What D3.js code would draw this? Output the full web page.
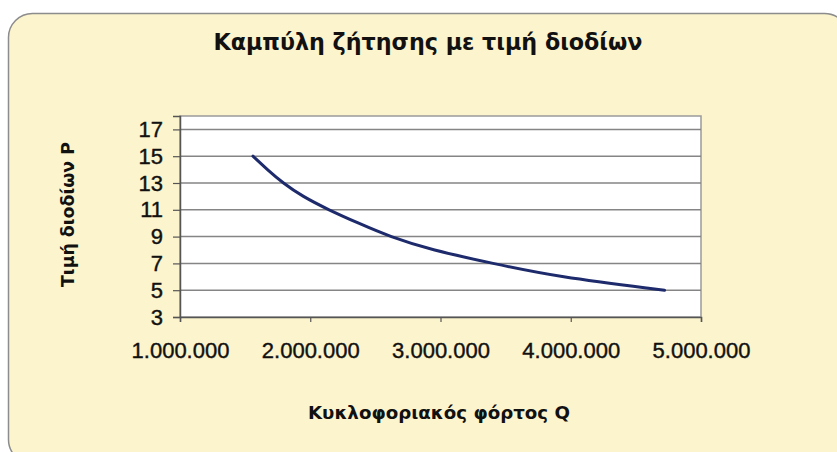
<!DOCTYPE html>
<html>
<head>
<meta charset="utf-8">
<script src="https://cdn.jsdelivr.net/npm/d3@7"></script>
<style>
  html, body { margin: 0; padding: 0; background: #ffffff; }
  svg { display: block; font-family: "Liberation Sans", Arial, sans-serif; }
</style>
</head>
<body>
<svg id="chart" width="837" height="452"></svg>
<script>
// Demand curve: traffic volume Q against toll price P
const quantity = [1560000, 1670000, 1790000, 1940000, 2140000, 2370000, 2610000, 2930000, 3400000, 3890000, 4720000];
const price    = [15, 14, 13, 12, 11, 10, 9, 8, 7, 6, 5];

const yTicks = [3, 5, 7, 9, 11, 13, 15, 17];
const xTicks = [1000000, 2000000, 3000000, 4000000, 5000000];

const titleText = "Καμπύλη ζήτησης με τιμή διοδίων";
const xTitle = "Κυκλοφοριακός φόρτος Q";
const yTitle = "Τιμή διοδίων P";

const plot = { left: 180, right: 701, top: 116, bottom: 317 };
const headFont = "'DejaVu Sans', Verdana, sans-serif";

const svg = d3.select("#chart");

// chart panel
svg.append("rect")
  .attr("x", 8.5).attr("y", 13.5)
  .attr("width", 840).attr("height", 450)
  .attr("rx", 24).attr("ry", 24)
  .attr("fill", "#fcf4cd")
  .attr("stroke", "#8c8c8c")
  .attr("stroke-width", 1.5);

const x = d3.scaleLinear().domain([1000000, 5000000]).range([plot.left, plot.right]);
const y = d3.scaleLinear().domain([3, 18]).range([plot.bottom, plot.top]);

// plot area
svg.append("rect")
  .attr("x", plot.left).attr("y", plot.top)
  .attr("width", plot.right - plot.left).attr("height", plot.bottom - plot.top)
  .attr("fill", "#ffffff")
  .attr("stroke", "#9a9a9a")
  .attr("stroke-width", 1.5);

// horizontal gridlines
svg.append("g")
  .selectAll("line")
  .data(yTicks.filter(d => d > 3))
  .join("line")
  .attr("x1", plot.left).attr("x2", plot.right)
  .attr("y1", d => y(d)).attr("y2", d => y(d))
  .attr("stroke", "#858585")
  .attr("stroke-width", 1.5);

const fmt = d => d3.format(",")(d).replace(/,/g, ".");

// x axis
const xAxis = svg.append("g")
  .attr("transform", `translate(0,${plot.bottom})`)
  .call(d3.axisBottom(x).tickValues(xTicks).tickFormat(fmt).tickSize(5).tickPadding(20));
xAxis.select(".domain").attr("stroke", "#555").attr("stroke-width", 1.5);
xAxis.selectAll(".tick line").attr("stroke", "#555").attr("stroke-width", 1.2);
xAxis.selectAll("text")
  .attr("font-size", 22).attr("fill", "#111")
  .attr("stroke", "#111").attr("stroke-width", 0.4)
  .attr("font-family", "'Liberation Sans', Arial, sans-serif");

// y axis
const yAxis = svg.append("g")
  .attr("transform", `translate(${plot.left},0)`)
  .call(d3.axisLeft(y).tickValues(yTicks).tickSize(7).tickPadding(10));
yAxis.select(".domain").attr("stroke", "#555").attr("stroke-width", 1.5);
yAxis.selectAll(".tick line").attr("stroke", "#555").attr("stroke-width", 1.2);
yAxis.selectAll("text")
  .attr("font-size", 22).attr("fill", "#111")
  .attr("stroke", "#111").attr("stroke-width", 0.4)
  .attr("font-family", "'Liberation Sans', Arial, sans-serif");

// demand curve
const pts = quantity.map((q, i) => ({ q, p: price[i] })).sort((a, b) => a.q - b.q);
svg.append("path")
  .datum(pts)
  .attr("fill", "none")
  .attr("stroke", "#1d2a6b")
  .attr("stroke-width", 3)
  .attr("stroke-linecap", "round")
  .attr("d", d3.line().x(d => x(d.q)).y(d => y(d.p)).curve(d3.curveBasis));

// titles
svg.append("text")
  .attr("x", 428).attr("y", 50)
  .attr("text-anchor", "middle")
  .attr("font-family", headFont)
  .attr("font-size", 22.5).attr("font-weight", "bold").attr("fill", "#111")
  .attr("textLength", 429).attr("lengthAdjust", "spacingAndGlyphs")
  .text(titleText);

svg.append("text")
  .attr("x", 439).attr("y", 419)
  .attr("text-anchor", "middle")
  .attr("font-family", headFont)
  .attr("font-size", 17.5).attr("font-weight", "bold").attr("fill", "#111")
  .attr("textLength", 262).attr("lengthAdjust", "spacingAndGlyphs")
  .text(xTitle);

svg.append("text")
  .attr("transform", "translate(74,214.5) rotate(-90)")
  .attr("text-anchor", "middle")
  .attr("font-family", headFont)
  .attr("font-size", 17.5).attr("font-weight", "bold").attr("fill", "#111")
  .attr("textLength", 145).attr("lengthAdjust", "spacingAndGlyphs")
  .text(yTitle);
</script>
</body>
</html>
